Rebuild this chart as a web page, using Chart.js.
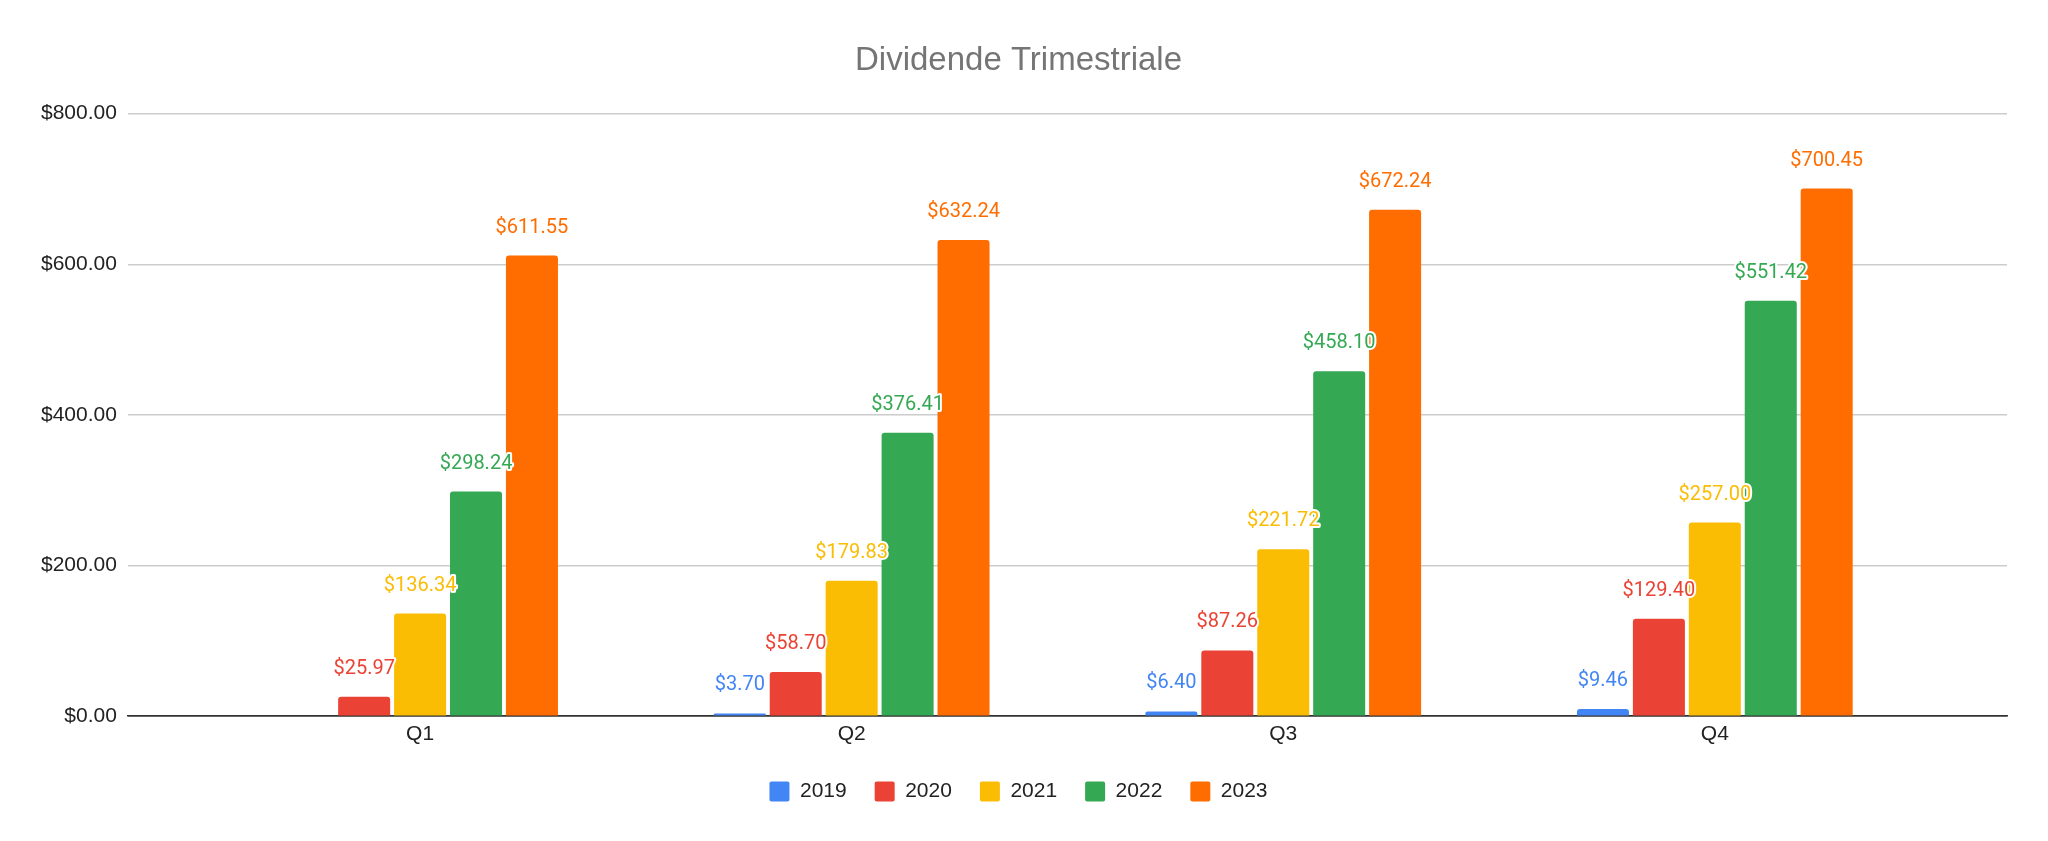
<!DOCTYPE html>
<html>
<head>
<meta charset="utf-8">
<title>Dividende Trimestriale</title>
<script src="https://cdn.jsdelivr.net/npm/chart.js@4.4.1/dist/chart.umd.min.js"></script>
<style>
    html, body { margin: 0; padding: 0; background: #fff; }
    #wrap { width: 2048px; height: 841px; position: relative; }
</style>
</head>
<body>
<div id="wrap"><canvas id="dividendChart"></canvas></div>
<script>
// ============================ data ==============================
const quarters = ['Q1', 'Q2', 'Q3', 'Q4'];
const years = ['2019', '2020', '2021', '2022', '2023'];
const div2019 = [null, 3.70, 6.40, 9.46];
const div2020 = [25.97, 58.70, 87.26, 129.40];
const div2021 = [136.34, 179.83, 221.72, 257.00];
const div2022 = [298.24, 376.41, 458.10, 551.42];
const div2023 = [611.55, 632.24, 672.24, 700.45];
const yTicks = [0, 200, 400, 600, 800];

const seriesValues = [div2019, div2020, div2021, div2022, div2023];
const seriesColors = ['#4285f4', '#ea4335', '#fbbc04', '#34a853', '#ff6d01'];

const money = v => '$' + Number(v).toFixed(2);
const axisFont = "'Liberation Sans', Arial, sans-serif";

// ============================ value labels ==============================
// coloured labels with a white halo above every bar
const barLabels = {
    id: 'barLabels',
    afterDatasetsDraw(chart) {
        const ctx = chart.ctx;
        ctx.save();
        ctx.font = "20px Roboto, 'Liberation Sans', sans-serif";
        ctx.textAlign = 'center';
        ctx.textBaseline = 'alphabetic';
        ctx.lineJoin = 'round';
        chart.data.datasets.forEach((ds, di) => {
            const meta = chart.getDatasetMeta(di);
            meta.data.forEach((bar, i) => {
                const v = ds.data[i].y;
                if (v === null || v === undefined) return;
                const y = bar.y - 23;
                ctx.lineWidth = 4;
                ctx.strokeStyle = '#ffffff';
                ctx.strokeText(money(v), bar.x, y);
                ctx.fillStyle = ds.backgroundColor;
                ctx.fillText(money(v), bar.x, y);
            });
        });
        ctx.restore();
    }
};

// ============================ chart ==============================
document.addEventListener('DOMContentLoaded', function () {
    const ctx = document.getElementById('dividendChart').getContext('2d');
    new Chart(ctx, {
        type: 'bar',
        data: {
            datasets: years.map((year, k) => ({
                label: year,
                data: seriesValues[k].map((v, i) => ({x: i, y: v})),
                backgroundColor: seriesColors[k],
                borderRadius: 3,
                borderSkipped: 'bottom',
                categoryPercentage: 0.648,
                barPercentage: 0.93
            }))
        },
        plugins: [barLabels],
        options: {
            responsive: true,
            maintainAspectRatio: false,
            animation: false,
            layout: {
                padding: {top: 20, left: 30, right: 41, bottom: 29}
            },
            plugins: {
                title: {
                    display: true,
                    text: 'Dividende Trimestriale',
                    color: '#757575',
                    font: {family: axisFont, size: 33, weight: 'normal'},
                    padding: {top: 21, bottom: 33}
                },
                legend: {
                    position: 'bottom',
                    labels: {
                        boxWidth: 20,
                        boxHeight: 20,
                        useBorderRadius: true,
                        borderRadius: 2,
                        padding: 28,
                        color: '#222222',
                        font: {family: axisFont, size: 21}
                    }
                },
                tooltip: {enabled: false}
            },
            scales: {
                x: {
                    type: 'linear',
                    offset: false,
                    min: -0.677,
                    max: 3.677,
                    grid: {display: false, drawTicks: false},
                    border: {display: true, color: '#333333', width: 1.5},
                    ticks: {
                        stepSize: 1,
                        includeBounds: false,
                        padding: 10,
                        color: '#222222',
                        font: {family: axisFont, size: 21, lineHeight: 0.8},
                        callback: value => quarters[value] ?? ''
                    }
                },
                y: {
                    min: 0,
                    max: 800,
                    afterBuildTicks: scale => {
                        scale.ticks = yTicks.map(v => ({value: v}));
                    },
                    grid: {
                        color: c => (c.tick && c.tick.value === 0) ? '#333333' : '#cccccc',
                        lineWidth: 1.5,
                        drawTicks: false
                    },
                    border: {display: false},
                    ticks: {
                        padding: 11,
                        color: '#222222',
                        font: {family: axisFont, size: 21},
                        callback: value => money(value)
                    }
                }
            }
        }
    });
});
// ============================ end chart ==============================
</script>
</body>
</html>
